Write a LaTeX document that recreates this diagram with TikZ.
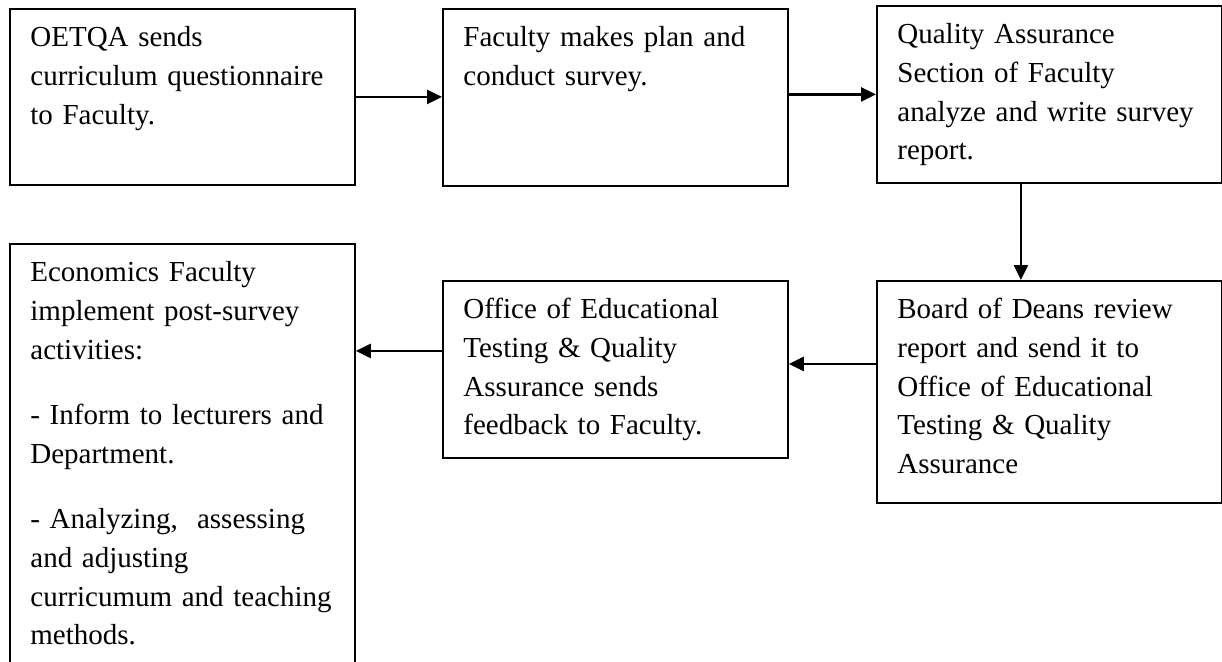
\documentclass[tikz,border=0pt]{standalone}
\usepackage{fontspec}
\setmainfont{Liberation Serif}
\usetikzlibrary{arrows.meta}
\hyphenpenalty=10000

\begin{document}
\begin{tikzpicture}[x=0.5pt,y=-0.5pt]
    \tikzstyle{box}=[rectangle,draw=black,line width=0.9pt,anchor=north west,inner xsep=10.25pt,inner ysep=0pt,text width=152pt,align=left,text height=18.75pt,font=\fontsize{14.5pt}{19.4pt}\selectfont]
    \tikzstyle{arr}=[line width=1.25pt,-{Triangle[length=7.5pt,width=7pt]}]

    \useasboundingbox (0,0) rectangle (1222,661);
    \clip (0,0) rectangle (1222,661);

    % Top row
    \node [box,text depth=69.25pt] (send) at (9,8) {OETQA sends\\ curriculum questionnaire\\ to Faculty.};
    \node [box,text depth=69.75pt] (plan) at (442,8) {Faculty makes plan and\\ conduct survey.};
    \node [box,text depth=69.75pt] (analyse) at (876,5) {Quality Assurance\\ Section of Faculty\\ analyze and write survey\\ report.};

    % Bottom row
    \node [box,text depth=92.25pt] (review) at (876,280) {Board of Deans review\\ report and send it to\\ Office of Educational\\ Testing \& Quality\\ Assurance};
    \node [box,text depth=69.75pt] (feedback) at (442,280) {Office of Educational\\ Testing \& Quality\\ Assurance sends\\ feedback to Faculty.};
    \node [box,text depth=209.75pt] (implement) at (9,243) {Economics Faculty\\ implement post-survey\\ activities:\\[13.25pt] - Inform to lecturers and\\ Department.\\[13.25pt] - Analyzing,\ \ assessing\\ and adjusting\\ curricumum and teaching\\ methods.};

    \coordinate (down) at ([xshift=-14.25pt]analyse.south);
    \coordinate (fbin) at ([yshift=2.75pt]feedback.east);
    \coordinate (fbout) at ([yshift=9.25pt]feedback.west);

    % Arrows
    \draw [arr] (send.east) -- (send.east -| plan.west);
    \draw [arr] (plan.east |- analyse.west) -- (analyse.west);
    \draw [arr] (down) -- (down |- review.north);
    \draw [arr] (fbin -| review.west) -- (fbin);
    \draw [arr] (fbout) -- (fbout -| implement.east);
\end{tikzpicture}
\end{document}
